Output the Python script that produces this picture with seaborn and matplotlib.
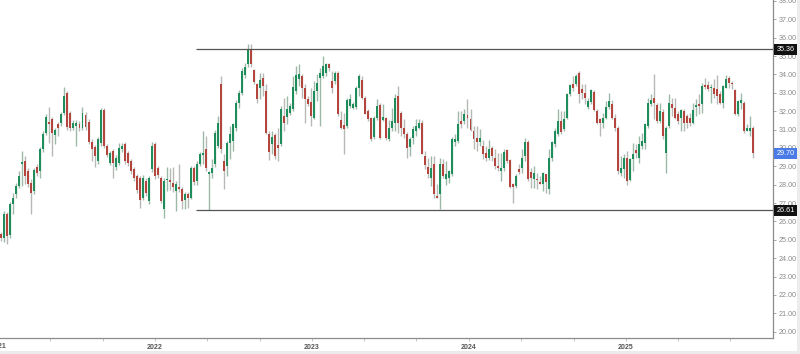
import numpy as np
import pandas as pd
import matplotlib
matplotlib.use("Agg")
import matplotlib.pyplot as plt
import matplotlib.dates as mdates
from matplotlib.patches import Rectangle
from matplotlib.transforms import blended_transform_factory
import seaborn as sns

# ---------------- data (weekly candles) ----------------
start_date = "2021-01-08"
opens = [25.31, 25.12, 26.39, 25.27, 26.94, 27.48, 27.93, 29.15, 29.29, 28.75,
         28.11, 27.66, 28.97, 28.75, 29.93, 30.83, 31.42, 31.56, 30.70, 31.28,
         31.37, 31.92, 33.00, 31.92, 31.10, 31.20, 31.32, 31.07, 31.79, 31.43,
         30.34, 30.05, 29.29, 30.29, 32.05, 30.11, 29.20, 29.83, 28.97, 29.20,
         29.93, 30.20, 29.74, 29.29, 28.84, 28.48, 28.39, 27.30, 28.20, 27.12,
         28.84, 30.20, 28.89, 28.39, 26.66, 28.25, 28.27, 28.11, 27.66, 27.88,
         27.75, 27.15, 27.48, 27.30, 28.89, 28.20, 29.10, 29.62, 29.93, 28.57,
         28.66, 29.11, 30.11, 33.46, 29.29, 29.02, 30.29, 30.38, 31.11, 32.46,
         33.01, 33.95, 34.55, 35.31, 34.22, 33.46, 33.28, 33.79, 33.10, 30.78,
         30.20, 30.71, 30.14, 30.20, 31.74, 31.68, 31.92, 32.10, 33.10, 33.73,
         33.91, 33.28, 32.65, 32.52, 31.65, 33.10, 33.82, 33.91, 34.10, 34.55,
         33.64, 33.64, 34.10, 31.50, 31.25, 31.20, 32.28, 32.19, 32.23, 33.28,
         33.68, 32.74, 32.01, 31.61, 30.60, 31.61, 32.34, 31.50, 31.61, 30.50,
         31.11, 31.38, 32.83, 31.92, 31.11, 30.74, 30.06, 30.56, 30.92, 31.11,
         31.38, 29.57, 28.97, 28.39, 29.15, 27.39, 27.48, 29.11, 28.30, 28.39,
         28.57, 30.33, 30.38, 31.47, 31.47, 31.79, 31.56, 30.92, 30.56, 30.35,
         30.11, 29.75, 29.48, 29.98, 29.44, 29.02, 28.75, 28.93, 29.87, 29.33,
         28.03, 27.93, 28.84, 28.90, 29.57, 30.35, 28.71, 28.30, 28.30, 28.17,
         28.03, 28.57, 27.75, 29.44, 30.20, 30.74, 31.47, 31.02, 31.65, 32.95,
         33.46, 33.50, 34.10, 33.19, 33.01, 32.23, 32.52, 33.06, 32.01, 31.56,
         31.38, 31.65, 32.23, 32.41, 31.61, 31.11, 28.66, 28.84, 29.48, 28.24,
         29.39, 29.87, 29.48, 30.11, 30.29, 31.20, 32.41, 32.74, 32.34, 31.47,
         31.98, 29.75, 31.20, 32.37, 32.19, 31.83, 31.61, 32.01, 31.74, 31.65,
         31.38, 32.23, 32.37, 32.37, 33.43, 33.43, 33.24, 33.28, 33.19, 32.92,
         32.47, 33.28, 33.82, 33.55, 33.14, 31.83, 32.47, 32.47, 30.92, 30.92,
         31.11]
highs = [25.45, 26.55, 26.50, 27.05, 27.57, 28.10, 28.75, 29.83, 29.56, 28.90,
         28.30, 28.90, 29.10, 30.05, 30.90, 31.85, 32.23, 31.70, 31.10, 31.40,
         31.95, 33.31, 33.10, 32.00, 31.50, 31.50, 31.45, 32.23, 31.95, 31.55,
         30.50, 30.15, 30.60, 32.20, 32.20, 30.20, 29.85, 29.95, 29.60, 30.29,
         30.25, 30.35, 29.85, 29.40, 28.95, 28.60, 28.50, 28.55, 28.35, 28.50,
         30.30, 30.30, 29.00, 28.50, 28.35, 28.95, 28.90, 28.95, 28.20, 29.11,
         27.85, 27.60, 27.60, 29.00, 29.00, 29.30, 29.80, 30.92, 30.65, 28.75,
         29.38, 31.00, 31.74, 33.91, 29.66, 30.38, 31.20, 31.38, 32.60, 33.15,
         34.35, 34.64, 35.64, 35.64, 34.30, 33.55, 34.10, 34.10, 33.46, 30.90,
         30.92, 30.80, 31.10, 32.28, 32.74, 32.83, 32.46, 33.91, 34.46, 34.55,
         34.00, 33.46, 32.83, 33.28, 33.64, 34.00, 34.37, 35.00, 34.64, 34.60,
         34.19, 34.19, 34.20, 32.01, 31.92, 32.70, 32.92, 32.50, 33.37, 34.00,
         33.91, 32.85, 32.10, 31.70, 31.74, 32.65, 32.45, 32.37, 31.70, 31.50,
         32.19, 32.92, 33.37, 32.01, 31.56, 30.85, 30.60, 31.20, 31.56, 31.56,
         31.50, 29.84, 29.48, 29.57, 29.57, 28.03, 29.48, 29.38, 29.29, 28.80,
         30.60, 30.74, 32.01, 32.01, 32.10, 32.65, 32.10, 31.20, 31.20, 31.02,
         30.42, 30.11, 30.42, 30.11, 29.93, 29.75, 29.75, 29.93, 29.93, 29.40,
         28.12, 28.57, 29.11, 29.93, 30.56, 30.45, 28.93, 29.02, 28.66, 28.48,
         28.70, 28.60, 29.93, 30.38, 31.11, 32.10, 32.01, 32.01, 33.01, 33.46,
         33.91, 34.00, 34.19, 33.46, 33.46, 32.74, 33.19, 33.15, 32.10, 31.65,
         31.92, 32.56, 33.01, 32.60, 31.83, 31.20, 29.57, 29.66, 29.84, 29.48,
         30.29, 30.20, 30.65, 30.83, 31.38, 32.74, 32.92, 34.00, 32.45, 32.47,
         32.10, 31.20, 32.92, 32.74, 32.74, 32.01, 32.10, 32.10, 31.87, 31.92,
         32.47, 32.65, 32.92, 33.55, 33.82, 33.64, 33.46, 33.73, 33.97, 33.10,
         33.40, 33.97, 33.91, 33.64, 33.20, 32.60, 33.01, 32.55, 31.29, 31.74,
         31.20]
lows = [24.95, 24.90, 24.76, 25.10, 26.39, 27.30, 27.80, 27.93, 28.02, 27.90,
        26.43, 27.50, 28.50, 28.35, 29.80, 30.70, 30.29, 29.56, 30.20, 30.65,
        31.20, 31.80, 31.00, 30.90, 30.95, 30.11, 30.90, 30.95, 31.00, 30.20,
        29.29, 28.97, 29.10, 30.10, 30.00, 29.50, 29.05, 28.39, 28.80, 29.05,
        29.80, 29.15, 29.00, 28.60, 28.20, 27.55, 26.72, 27.15, 27.40, 26.95,
        28.70, 28.30, 28.35, 27.00, 26.21, 27.66, 27.70, 27.60, 26.55, 27.60,
        26.66, 26.70, 26.75, 27.20, 28.00, 27.99, 29.00, 29.11, 28.75, 26.61,
        28.39, 28.95, 30.00, 29.75, 27.75, 28.48, 29.38, 29.84, 30.92, 32.19,
        32.90, 33.80, 34.40, 34.40, 33.46, 32.46, 32.65, 32.83, 30.74, 29.33,
        29.66, 29.38, 29.29, 30.10, 30.92, 31.29, 31.80, 32.00, 32.92, 33.37,
        32.74, 31.38, 32.28, 31.20, 31.56, 32.55, 31.20, 33.82, 33.91, 34.19,
        33.01, 33.46, 31.74, 31.01, 29.66, 31.10, 32.19, 32.10, 32.10, 32.83,
        32.65, 31.83, 31.47, 30.38, 30.50, 31.50, 30.47, 31.47, 30.45, 30.38,
        30.92, 30.92, 30.83, 30.65, 30.56, 29.48, 29.57, 30.20, 30.65, 31.02,
        29.66, 28.84, 28.39, 27.93, 27.30, 27.26, 26.67, 28.39, 27.99, 28.12,
        28.45, 30.11, 30.25, 31.11, 31.29, 31.11, 30.92, 29.93, 29.84, 30.11,
        29.39, 29.30, 29.33, 29.30, 28.84, 28.75, 28.21, 28.75, 29.20, 27.84,
        27.03, 27.84, 28.57, 28.66, 29.30, 28.21, 27.84, 27.84, 27.75, 28.03,
        27.66, 27.57, 27.52, 29.30, 30.06, 30.65, 30.74, 30.92, 31.56, 32.83,
        33.10, 33.37, 32.47, 32.65, 32.37, 32.10, 32.37, 32.01, 31.30, 30.65,
        31.11, 31.56, 32.10, 31.56, 30.92, 28.57, 28.48, 28.39, 27.99, 28.21,
        28.75, 29.48, 29.20, 29.93, 29.93, 31.10, 32.28, 31.56, 31.38, 31.38,
        30.47, 28.66, 31.11, 31.74, 31.56, 31.29, 30.92, 30.92, 31.11, 31.20,
        31.29, 31.74, 31.83, 31.92, 33.19, 33.10, 32.47, 32.74, 32.37, 32.37,
        32.19, 33.24, 33.24, 33.19, 31.80, 31.74, 32.10, 30.83, 30.90, 30.65,
        29.48]
closes = [25.12, 26.39, 25.21, 26.94, 27.30, 27.93, 28.48, 29.22, 28.48, 28.02,
          27.57, 28.78, 28.66, 29.93, 30.74, 31.68, 31.33, 30.83, 30.96, 31.07,
          31.83, 32.82, 31.14, 31.07, 31.37, 31.37, 31.07, 31.92, 31.14, 30.34,
          29.93, 29.56, 30.47, 32.05, 30.11, 29.62, 29.74, 29.20, 29.47, 30.02,
          30.11, 29.29, 29.20, 28.75, 28.39, 27.70, 27.15, 28.39, 27.57, 28.39,
          30.11, 28.48, 28.51, 27.12, 28.20, 28.30, 28.15, 27.88, 28.06, 27.75,
          27.12, 27.48, 27.26, 28.89, 28.17, 29.10, 29.66, 29.75, 28.89, 28.71,
          28.93, 30.83, 31.38, 29.93, 28.75, 30.29, 30.74, 31.29, 32.46, 33.01,
          34.19, 34.40, 35.36, 34.55, 33.61, 32.65, 33.68, 33.37, 30.83, 29.80,
          30.60, 29.56, 30.02, 32.10, 31.38, 32.10, 32.28, 33.32, 33.97, 34.00,
          33.28, 32.65, 32.37, 31.74, 33.10, 33.55, 34.10, 34.46, 34.55, 34.33,
          33.24, 34.10, 31.83, 31.10, 31.01, 32.59, 32.65, 32.37, 33.28, 33.91,
          32.74, 31.87, 31.56, 30.47, 31.61, 32.28, 30.56, 31.69, 30.56, 31.10,
          31.47, 32.74, 31.38, 31.11, 30.74, 30.02, 30.47, 31.02, 31.20, 31.38,
          29.69, 29.08, 28.57, 28.93, 27.48, 27.30, 29.15, 28.48, 28.57, 28.75,
          30.47, 30.47, 31.29, 31.29, 31.83, 31.61, 30.96, 30.47, 30.35, 30.56,
          29.69, 29.44, 29.93, 29.57, 29.02, 28.90, 28.93, 29.80, 29.29, 27.88,
          27.88, 28.48, 28.71, 29.48, 30.35, 28.30, 28.35, 28.66, 28.24, 28.06,
          28.66, 28.17, 29.44, 30.35, 30.92, 31.47, 30.89, 31.56, 32.92, 33.43,
          33.28, 33.91, 32.92, 33.01, 32.74, 32.56, 33.14, 32.05, 31.38, 31.38,
          31.65, 32.23, 32.56, 31.61, 31.11, 28.75, 28.93, 29.48, 28.21, 29.39,
          29.66, 29.75, 30.20, 30.38, 31.29, 32.47, 32.59, 32.47, 31.47, 32.01,
          30.65, 31.07, 32.47, 32.19, 31.65, 31.47, 32.05, 31.38, 31.38, 31.38,
          32.05, 32.34, 32.28, 33.37, 33.32, 33.19, 33.32, 32.92, 32.83, 32.47,
          33.37, 33.73, 33.55, 33.50, 31.83, 32.56, 32.59, 30.92, 31.11, 31.11,
          29.70]
resistance = 35.36
support = 26.61
last_price = 29.70
level_start = "2022-04-06"
y_ticks = list(range(20, 39))
first_year_label = "2021"

# ---------------- style ----------------
sns.set_theme(style="white")
plt.rcParams["font.family"] = ["Liberation Sans", "DejaVu Sans"]

df = pd.DataFrame({"date": pd.date_range(start_date, periods=len(closes), freq="7D"),
                   "open": opens, "high": highs, "low": lows, "close": closes})
df["x"] = mdates.date2num(df["date"])
df["up"] = df["close"] >= df["open"]

GREEN = "#1f8c5c"
RED = "#b4453d"
WICK_UP = "#9db8a8"
WICK_DN = "#b7b9b4"

fig = plt.figure(figsize=(8.0, 3.54), dpi=100)
fig.patch.set_facecolor("white")
ax = fig.add_axes([0.0, 16 / 354, 773 / 800, 338 / 354])
ax.set_facecolor("white")

# wicks
ax.vlines(df["x"], df["low"], df["high"],
          colors=np.where(df["up"], WICK_UP, WICK_DN), linewidth=1.0, zorder=2)
# bodies
bottoms = np.minimum(df["open"], df["close"])
heights = np.maximum(np.abs(df["close"] - df["open"]), 0.06)
ax.bar(df["x"], heights, bottom=bottoms, width=4.6,
       color=np.where(df["up"], GREEN, RED), edgecolor="none", zorder=3)

xmin = mdates.date2num(pd.Timestamp("2021-01-05"))
xmax = mdates.date2num(pd.Timestamp("2025-12-09"))
ax.set_xlim(xmin, xmax)
ax.set_ylim(19.66, 38.05)

# horizontal levels
ls = mdates.date2num(pd.Timestamp(level_start))
for lv in (resistance, support):
    ax.hlines(lv, ls, xmax, color="#555555", linewidth=0.9, zorder=4)

# axes styling
for s in ("top", "left"):
    ax.spines[s].set_visible(False)
for s in ("right", "bottom"):
    ax.spines[s].set_color("#8c8c8c")
    ax.spines[s].set_linewidth(0.9)

ax.yaxis.tick_right()
ax.set_yticks(y_ticks)
ax.set_yticklabels([f"{v:.2f}" for v in y_ticks])
ax.tick_params(axis="y", which="both", right=True, left=False, length=2.2, width=0.6,
               color="#999999", labelsize=5.2, labelcolor="#8a8a8a", pad=1.6)

ax.xaxis.set_major_locator(mdates.YearLocator())
ax.xaxis.set_major_formatter(mdates.DateFormatter("%Y"))
ax.xaxis.set_minor_locator(mdates.MonthLocator(bymonth=[5, 9]))
ax.tick_params(axis="x", which="both", bottom=True, length=2.2, width=0.6,
               color="#bbbbbb", labelsize=5.0, labelcolor="#555555", pad=1.8)
for lab in ax.get_xticklabels():
    lab.set_fontweight("bold")
ax.grid(False)

# year label that sits just off the left edge (partially visible)
ax.text(mdates.date2num(pd.Timestamp(first_year_label + "-01-01")), -0.0146,
        first_year_label, transform=ax.get_xaxis_transform(), ha="center", va="top",
        fontsize=5.0, fontweight="bold", color="#555555", clip_on=False)

# price labels on the right axis
tr = blended_transform_factory(ax.transAxes, ax.transData)
for val, fc in ((resistance, "#111111"), (support, "#111111"), (last_price, "#4a7be6")):
    ax.text(1.0045, val, f"{val:.2f}", transform=tr, ha="left", va="center",
            fontsize=5.2, color="white", zorder=10, clip_on=False,
            bbox=dict(boxstyle="square,pad=0.28", facecolor=fc, edgecolor="none"))

# frame strips
fig.patches.append(Rectangle((0, 0), 1, 3.5 / 354, transform=fig.transFigure,
                             facecolor="#ebebeb", edgecolor="none", zorder=0))
fig.patches.append(Rectangle((797 / 800, 0), 3 / 800, 1, transform=fig.transFigure,
                             facecolor="#ececec", edgecolor="none", zorder=0))

fig.savefig("out.png", dpi=100, facecolor="white")
